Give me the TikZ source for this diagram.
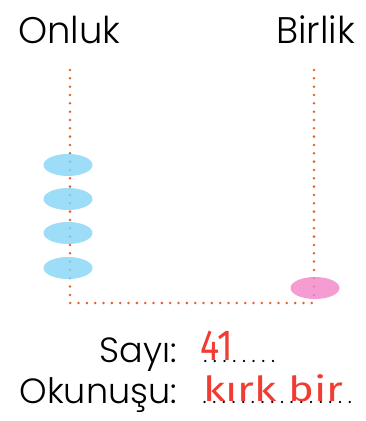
\documentclass[tikz,border=0pt]{standalone}
\usepackage{fontspec}
\usepackage{graphicx}
\usetikzlibrary{shapes.geometric}
\setmainfont{Poppins Light}
\newfontfamily\handfont{Fira Sans}
\definecolor{roddot}{HTML}{E0622A}
\definecolor{beadblue}{HTML}{85D4F5}
\definecolor{beadpink}{HTML}{F285C8}
\definecolor{penred}{HTML}{F03C32}

\begin{document}
\begin{tikzpicture}[x=1pt,y=-1pt,
    rod/.style={roddot,line width=2.8pt,line cap=round,
      dash pattern=on 0pt off 8.33pt},
    bead/.style={ellipse,minimum width=49pt,minimum height=22pt,
      inner sep=0pt,fill opacity=0.8},
    title/.style={anchor=base west,font=\fontsize{37}{37}\selectfont},
    label/.style={anchor=base east,font=\fontsize{35}{35}\selectfont},
    leader/.style={anchor=base west,inner sep=0pt},
    hand/.style={anchor=base west,penred,inner sep=0pt,
      font=\handfont\fontsize{30}{30}\selectfont}]
  \useasboundingbox (0,0) rectangle (366,421);
  % column headings
  \node[title,inner sep=0pt] (onluk) at (18,43) {Onluk};
  \node[title,inner sep=0pt] (birlik) at (276,43) {Birlik};
  % rods and base
  \coordinate (onlukTop) at (70,70);
  \coordinate (corner) at (70,303);
  \coordinate (birlikTop) at (314,70);
  \coordinate (birlikBase) at (314,303);
  \draw[rod] (onlukTop) -- (corner) -- (birlikBase);
  \draw[rod] (birlikTop) -- (birlikBase);
  % 4 tens, 1 one
  \foreach \y [count=\i] in {165,199,233,268}
    \node[bead,fill=beadblue] (ten\i) at (68,\y) {};
  \node[bead,fill=beadpink] (one1) at (315,288) {};
  % answer lines
  \node[label,inner sep=0pt] (sayi) at (177,362) {Sayı:};
  \node[label,inner sep=0pt] (okunusu) at (177,403) {Okunuşu:};
  \node[leader] (sayiDots) at (199,362)
    {\makebox[80pt]{\fontsize{22}{22}\selectfont\dotfill}};
  \node[leader] (okunusuDots) at (199,403)
    {\makebox[156pt]{\fontsize{22}{22}\selectfont\dotfill}};
  \node[hand] (sayiAns) at (200,360) {\scalebox{1.2}[1.45]{41}};
  \node[hand] (okunusuAns) at (203,401) {\scalebox{1.45}[1.15]{kırk bir}};
\end{tikzpicture}
\end{document}
